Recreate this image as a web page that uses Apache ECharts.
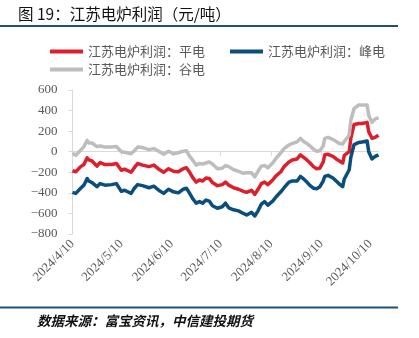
<!DOCTYPE html>
<html>
<head>
<meta charset="utf-8">
<script src="https://cdn.jsdelivr.net/npm/echarts@6/dist/echarts.min.js"></script>
<style>
  html, body { margin: 0; padding: 0; background: #fff; }
  #chart { width: 419px; height: 338px; }
</style>
</head>
<body>
<div id="chart"></div>
<script>
// Sampled dates (yuan/ton readings) for the Jiangsu EAF profit series
const sampleDates = [
  '2024/4/10','2024/4/12','2024/4/15','2024/4/17','2024/4/19','2024/4/20','2024/4/22','2024/4/25','2024/4/27','2024/4/30',
  '2024/5/4','2024/5/7','2024/5/10','2024/5/12','2024/5/16','2024/5/18','2024/5/20','2024/5/23','2024/5/27','2024/5/30',
  '2024/6/2','2024/6/5','2024/6/8','2024/6/11','2024/6/14','2024/6/17','2024/6/19','2024/6/21','2024/6/23','2024/6/25','2024/6/27','2024/6/29',
  '2024/7/1','2024/7/3','2024/7/5','2024/7/8','2024/7/11','2024/7/13','2024/7/15','2024/7/18','2024/7/21','2024/7/24','2024/7/26','2024/7/29','2024/7/31',
  '2024/8/2','2024/8/4','2024/8/6','2024/8/8','2024/8/11','2024/8/13','2024/8/16','2024/8/18','2024/8/21','2024/8/23','2024/8/26','2024/8/28','2024/8/30',
  '2024/9/1','2024/9/3','2024/9/5','2024/9/7','2024/9/9','2024/9/11','2024/9/12','2024/9/14','2024/9/17','2024/9/19','2024/9/21','2024/9/23','2024/9/24','2024/9/25','2024/9/27','2024/9/28','2024/9/30',
  '2024/10/3','2024/10/5','2024/10/8','2024/10/9','2024/10/11','2024/10/13','2024/10/15'
];

// 平电 (flat-rate electricity)
const pingDian = [
  -185,-195,-145,-125,-60,-80,-90,-140,-105,-125,
  -125,-115,-180,-170,-200,-155,-115,-130,-145,-130,
  -170,-200,-165,-190,-195,-165,-155,-200,-255,-295,-275,-285,
  -255,-260,-300,-330,-320,-295,-325,-350,-365,-385,-395,-375,-415,
  -365,-310,-295,-320,-275,-235,-195,-145,-100,-80,-70,-30,-55,
  -80,-110,-145,-165,-160,-100,-30,-25,-45,-70,-90,-110,-35,-45,0,130,265,
  275,275,285,195,130,140,160
];

// 峰电 (peak-rate electricity)
const fengDian = [
  -395,-405,-355,-325,-260,-285,-300,-340,-310,-325,
  -320,-310,-385,-375,-405,-355,-320,-330,-350,-335,
  -375,-405,-365,-390,-400,-365,-355,-405,-460,-500,-485,-500,
  -470,-480,-525,-550,-535,-500,-545,-565,-575,-600,-615,-590,-625,
  -575,-510,-485,-520,-480,-440,-390,-350,-295,-285,-285,-240,-265,
  -295,-330,-355,-360,-340,-285,-240,-230,-255,-285,-315,-340,-265,-250,-175,-55,70,
  90,95,105,0,-70,-45,-30
];

// 谷电 (valley-rate electricity)
const guDian = [
  -15,-35,15,50,110,85,85,50,55,45,
  45,50,0,-5,-20,10,45,40,20,30,
  5,-25,5,-20,-10,5,10,-45,-85,-130,-115,-120,
  -110,-100,-120,-165,-160,-135,-145,-175,-190,-210,-205,-205,-245,
  -190,-140,-135,-155,-110,-65,-10,30,65,80,95,130,100,
  80,55,25,5,10,55,130,140,120,100,80,75,100,105,160,305,420,
  455,455,455,355,285,320,330
];

const seriesNames = ['江苏电炉利润：平电', '江苏电炉利润：峰电', '江苏电炉利润：谷电'];
const seriesColors = ['#dc1f2b', '#0b4e7e', '#bdbdbd'];

// Every calendar day on the date axis
function buildDays(startStr, endStr) {
  const out = [];
  const s = new Date(startStr + 'T00:00:00Z');
  const e = new Date(endStr + 'T00:00:00Z');
  for (let t = s; t <= e; t = new Date(t.getTime() + 86400000)) {
    out.push(t.getUTCFullYear() + '/' + (t.getUTCMonth() + 1) + '/' + t.getUTCDate());
  }
  return out;
}
const days = buildDays('2024-04-10', '2024-10-15');

function placeOnDays(values) {
  const arr = days.map(() => null);
  sampleDates.forEach((d, i) => {
    const idx = days.indexOf(d);
    if (idx >= 0) arr[idx] = values[i];
  });
  return arr;
}

const isTenth = (i, v) => /\/10$/.test(v);
const axisFont = 'Liberation Serif, Times New Roman, serif';
const cjkFont = 'Noto Sans CJK SC, sans-serif';

const chart = echarts.init(document.getElementById('chart'), null, { renderer: 'canvas' });
chart.setOption({
  animation: false,
  backgroundColor: '#ffffff',
  graphic: [
    { type: 'text', x: 18, y: 14,
      style: { text: '图 19：江苏电炉利润（元/吨）', fill: '#111',
               font: '15.5px ' + cjkFont, textAlign: 'left', textVerticalAlign: 'middle' } },
    { type: 'line', shape: { x1: 0, y1: 26, x2: 398, y2: 26 },
      style: { stroke: '#1f5077', lineWidth: 2 } },
    { type: 'line', shape: { x1: 0, y1: 307.5, x2: 398, y2: 307.5 },
      style: { stroke: '#1f5077', lineWidth: 2 } },
    { type: 'text', x: 37, y: 321,
      style: { text: '数据来源：富宝资讯，中信建投期货', fill: '#111',
               font: 'italic bold 13.5px ' + cjkFont, textAlign: 'left', textVerticalAlign: 'middle' } }
  ],
  legend: [
    { data: [seriesNames[0], seriesNames[1]], left: 50, top: 45, padding: 0,
      icon: 'rect', itemWidth: 33, itemHeight: 4, itemGap: 25,
      textStyle: { color: '#595959', fontSize: 13, fontFamily: cjkFont } },
    { data: [seriesNames[2]], left: 50, top: 63, padding: 0,
      icon: 'rect', itemWidth: 33, itemHeight: 4,
      textStyle: { color: '#595959', fontSize: 13, fontFamily: cjkFont } }
  ],
  grid: { left: 72.5, right: 40.5, top: 90, bottom: 104, containLabel: false },
  xAxis: [
    { type: 'category', data: days, boundaryGap: false, position: 'bottom',
      axisLine: { show: false, onZero: false },
      axisTick: { show: false },
      axisLabel: { interval: isTenth, rotate: 45, margin: 8,
                   color: '#595959', fontSize: 13, fontFamily: axisFont } },
    { type: 'category', data: days, boundaryGap: false, position: 'bottom',
      axisLine: { show: true, onZero: true, lineStyle: { color: '#d9d9d9', width: 1 } },
      axisTick: { show: true, interval: isTenth, length: 4, lineStyle: { color: '#d9d9d9' } },
      axisLabel: { show: false } }
  ],
  yAxis: {
    type: 'value', min: -800, max: 600, interval: 200,
    axisLine: { show: true, lineStyle: { color: '#d9d9d9' } },
    axisTick: { show: true, length: 4, lineStyle: { color: '#d9d9d9' } },
    splitLine: { show: false },
    axisLabel: { margin: 15, color: '#595959', fontSize: 13, fontFamily: axisFont,
                 formatter: v => (v < 0 ? '\u2212' + Math.abs(v) : String(v)) }
  },
  series: [pingDian, fengDian, guDian].map((vals, i) => ({
    name: seriesNames[i], type: 'line', xAxisIndex: 0,
    data: placeOnDays(vals), connectNulls: true,
    showSymbol: false, symbol: 'none',
    itemStyle: { color: seriesColors[i] },
    lineStyle: { color: seriesColors[i], width: 3.5, join: 'round' }
  }))
});
</script>
</body>
</html>
